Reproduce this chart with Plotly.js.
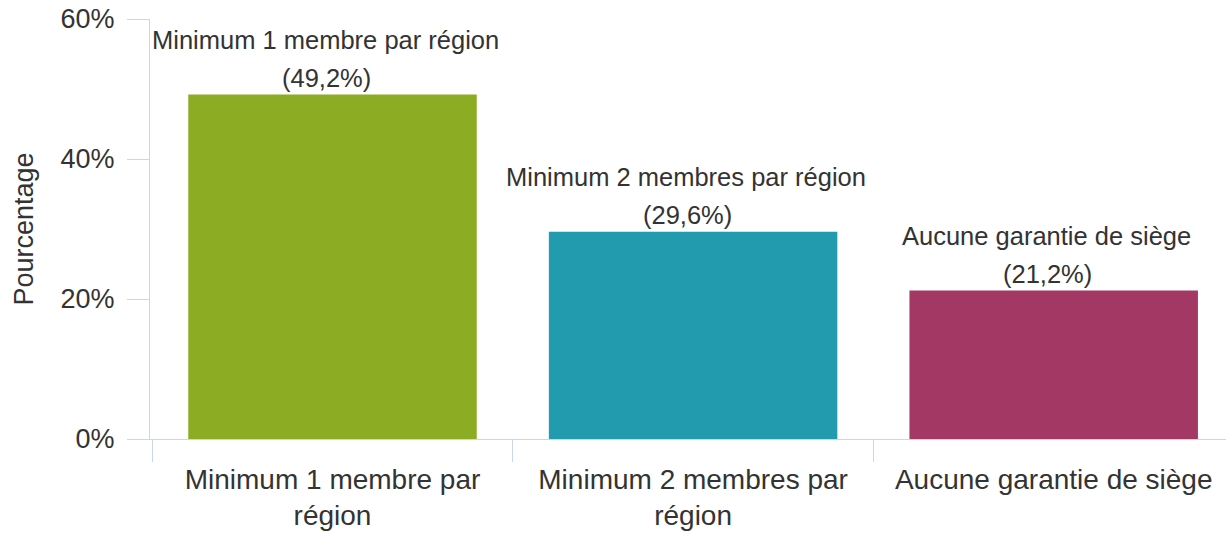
<!DOCTYPE html>
<html>
<head>
<meta charset="utf-8">
<script src="https://cdn.plot.ly/plotly-3.0.1.min.js"></script>
<style>
  html, body { margin: 0; padding: 0; background: #fff; overflow: hidden; }
  #chart { width: 1234px; height: 536px; }
</style>
</head>
<body>
<div id="chart"></div>
<script>
// ---- data ----
const categories = ["Minimum 1 membre par région", "Minimum 2 membres par région", "Aucune garantie de siège"];
const tickLabels = ["Minimum 1 membre par<br>région", "Minimum 2 membres par<br>région", "Aucune garantie de siège"];
const values = [49.2, 29.6, 21.2];
const barColors = ["#8BAC23", "#219BAD", "#A33864"];
const yTicks = [0, 20, 40, 60];
const yTickText = ["0%", "20%", "40%", "60%"];

const FONT = '"Liberation Sans", Arial, sans-serif';
const TXT = '#333333';
const AXIS = '#ccd6eb';

function fmt(v) { return '(' + v.toFixed(1).replace('.', ',') + '%)'; }

const trace = {
  type: 'bar',
  x: categories,
  y: values,
  marker: { color: barColors, line: { width: 0 } },
  hoverinfo: 'skip'
};

const annotations = [];
categories.forEach((c, i) => {
  annotations.push({
    x: c, y: values[i], xref: 'x', yref: 'y',
    text: fmt(values[i]), showarrow: false,
    yanchor: 'bottom', yshift: 1, xshift: -6,
    font: { family: FONT, size: 25.5, color: TXT }
  });
  annotations.push({
    x: c, y: values[i], xref: 'x', yref: 'y',
    text: c, showarrow: false,
    yanchor: 'bottom', yshift: 39, xshift: -7,
    font: { family: FONT, size: 25.5, color: TXT }
  });
});

const layout = {
  width: 1234, height: 536,
  margin: { l: 150, r: 0, t: 19, b: 97, pad: 0 },
  paper_bgcolor: '#ffffff', plot_bgcolor: '#ffffff',
  font: { family: FONT, color: TXT },
  showlegend: false,
  bargap: 0.2,
  xaxis: {
    type: 'category',
    tickmode: 'array', tickvals: categories, ticktext: tickLabels,
    tickson: 'boundaries',
    ticks: 'outside', ticklen: 22, tickwidth: 1, tickcolor: AXIS,
    showline: true, linecolor: AXIS, linewidth: 1,
    showgrid: false, zeroline: false,
    tickfont: { family: FONT, size: 28, color: TXT },
    ticklabelstandoff: 15,
    automargin: false, fixedrange: true
  },
  yaxis: {
    range: [0, 60],
    tickmode: 'array', tickvals: yTicks, ticktext: yTickText,
    ticks: 'outside', ticklen: 22, tickwidth: 1, tickcolor: AXIS,
    showline: true, linecolor: AXIS, linewidth: 1,
    showgrid: false, zeroline: false,
    tickfont: { family: FONT, size: 27, color: TXT },
    ticklabelstandoff: 7,
    title: { text: 'Pourcentage', font: { family: FONT, size: 27, color: TXT }, standoff: 19 },
    automargin: false, fixedrange: true
  },
  annotations: annotations
};

Plotly.newPlot('chart', [trace], layout, { staticPlot: true, displayModeBar: false });
</script>
</body>
</html>
